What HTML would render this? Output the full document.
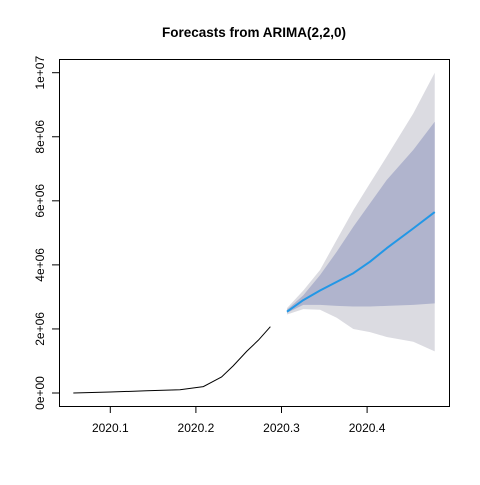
<!DOCTYPE html>
<html><head><meta charset="utf-8"><style>
body{margin:0;background:#fff}
svg text{font-family:"Liberation Sans",Arial,sans-serif;fill:#000}
</style></head><body>
<svg id="chart" width="480" height="480" viewBox="0 0 480 480" xmlns="http://www.w3.org/2000/svg">
<rect width="480" height="480" fill="#fff"/>
<text x="254" y="37" text-anchor="middle" font-size="13.5" font-weight="bold">Forecasts from ARIMA(2,2,0)</text>
<g id="bands"></g><g id="lines"></g><g id="axes"></g>
<rect x="59.5" y="59.5" width="390" height="347" fill="none" stroke="#000" stroke-width="1"/>
</svg>
<script>
const histT=[2020.0568,2020.1,2020.1425,2020.1814,2020.201,2020.2087,2020.230,2020.2437,2020.2593,2020.273,2020.287];
const histV=[0,0.03e6,0.07e6,0.1e6,0.17e6,0.2e6,0.5e6,0.85e6,1.3e6,1.65e6,2.07e6];
const fcT=[2020.3064,2020.3255,2020.345,2020.3645,2020.3839,2020.4034,2020.4229,2020.454,2020.479];
const fcMean=[2.54e6,2.9e6,3.2e6,3.47e6,3.74e6,4.1e6,4.52e6,5.14e6,5.65e6];
const lo80=[2.5e6,2.75e6,2.75e6,2.72e6,2.7e6,2.7e6,2.72e6,2.75e6,2.8e6];
const hi80=[2.6e6,3.05e6,3.68e6,4.41e6,5.19e6,5.92e6,6.65e6,7.59e6,8.47e6];
const lo95=[2.45e6,2.62e6,2.6e6,2.35e6,2.0e6,1.9e6,1.75e6,1.6e6,1.3e6];
const hi95=[2.65e6,3.2e6,3.84e6,4.78e6,5.71e6,6.55e6,7.38e6,8.73e6,10.0e6];
const xTicks=[2020.1,2020.2,2020.3,2020.4];
const xTickLabels=["2020.1","2020.2","2020.3","2020.4"];
const yTicks=[0,2e6,4e6,6e6,8e6,1e7];
const yTickLabels=["0e+00","2e+06","4e+06","6e+06","8e+06","1e+07"];

const NS="http://www.w3.org/2000/svg";
const X=v=>110.3+(v-2020.1)*856;
const Y=v=>393-v/1e7*320.3;
function mk(tag,attrs,parent){const e=document.createElementNS(NS,tag);for(const k in attrs)e.setAttribute(k,attrs[k]);document.getElementById(parent).appendChild(e);return e;}
function band(lo,hi,fill,name){
  let d="M"+fcT.map((t,i)=>X(t)+","+Y(hi[i])).join("L");
  for(let i=fcT.length-1;i>=0;i--)d+="L"+X(fcT[i])+","+Y(lo[i]);
  const e=mk("path",{d:d+"Z",fill:fill},"bands");
  
  
}
band(lo95,hi95,"#dbdbe1","band-95");
band(lo80,hi80,"#b0b4cd","band-80");
const h=mk("polyline",{points:histT.map((t,i)=>X(t)+","+Y(histV[i])).join(" "),fill:"none",stroke:"#000","stroke-width":1},"lines");


const f=mk("polyline",{points:fcT.map((t,i)=>X(t)+","+Y(fcMean[i])).join(" "),fill:"none",stroke:"#2297e6","stroke-width":2,"stroke-linejoin":"round"},"lines");


xTicks.forEach((t,i)=>{
  const l=mk("line",{x1:X(t),x2:X(t),y1:406,y2:413,stroke:"#000"},"axes");
  
  
  const tx=mk("text",{x:X(t),y:432,"text-anchor":"middle","font-size":12},"axes");
  tx.textContent=xTickLabels[i];
  
  
});
yTicks.forEach((v,i)=>{
  const l=mk("line",{x1:52,x2:59,y1:Y(v),y2:Y(v),stroke:"#000"},"axes");
  
  
  const tx=mk("text",{x:0,y:0,"text-anchor":"middle","font-size":12,transform:"translate(44,"+Y(v)+") rotate(-90)"},"axes");
  tx.textContent=yTickLabels[i];
  
  
});
</script>
</body></html>
